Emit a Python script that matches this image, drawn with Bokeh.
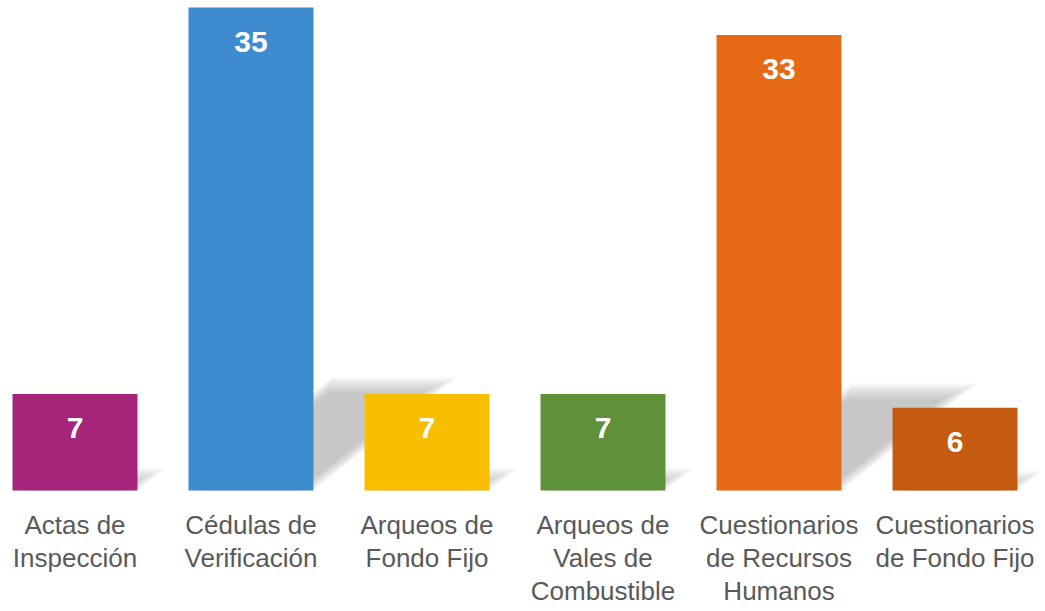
from bokeh.plotting import figure
from bokeh.models import ColumnDataSource, Range1d
from bokeh.core.properties import value
from bokeh.embed import file_html
from bokeh.resources import INLINE

# ---- data ----
categories = [
    "Actas de\nInspección",
    "Cédulas de\nVerificación",
    "Arqueos de\nFondo Fijo",
    "Arqueos de\nVales de\nCombustible",
    "Cuestionarios\nde Recursos\nHumanos",
    "Cuestionarios\nde Fondo Fijo",
]
values = [7, 35, 7, 7, 33, 6]
colors = ["#A5257A", "#3F8BD0", "#F8BE00", "#5E913A", "#E66A16", "#C55A11"]

# ---- layout ----
W, H = 1040, 608
px_x = 176.0          # pixels per category step
px_y = 483.0 / 35.0   # pixels per value unit
x_start = -74.5 / px_x
x_end = x_start + W / px_x
y_end = 490.0 / px_y
y_start = y_end - H / px_y
bar_w = 0.71

p = figure(width=W, height=H,
           x_range=Range1d(x_start, x_end), y_range=Range1d(y_start, y_end),
           output_backend="svg", toolbar_location=None,
           x_axis_location=None, y_axis_location=None, min_border=0)
p.grid.visible = False
p.outline_line_color = None
p.background_fill_color = "white"

xpos = list(range(len(values)))

# ---- perspective shadows (derived from bar geometry) ----
xs_all, ys_all = [], []
layers = 8
for i, v in zip(xpos, values):
    rise_px = 0.235 * v * px_y
    dx_px = 1.27 * rise_px
    for k in range(layers):
        inset = k * 2.2
        top_px = max(rise_px - inset, 1.0)
        ix = inset / px_x
        dx = dx_px * (top_px / rise_px) / px_x
        x0 = i - bar_w / 2 + ix
        x1 = i + bar_w / 2 - ix
        xs_all.append([x0, x1, x1 + dx, x0 + dx])
        ys_all.append([0, 0, top_px / px_y, top_px / px_y])
p.patches(xs_all, ys_all, fill_color="#7f7f7f", fill_alpha=0.058, line_color=None)

# ---- bars ----
src = ColumnDataSource(dict(
    x=xpos, top=values, color=colors,
    label=[str(v) for v in values],
    label_y=[v - 34 / px_y for v in values],
))
p.vbar(x="x", top="top", bottom=0, width=bar_w, fill_color="color",
       line_color=None, source=src)

p.text(x="x", y="label_y", text="label", source=src,
       text_color="white", text_font=value("Liberation Sans"),
       text_font_style="bold", text_font_size="30px",
       text_align="center", text_baseline="middle")

# ---- category labels ----
cat_y = y_end - 509 / px_y
p.text(x=xpos, y=[cat_y] * len(xpos), text=categories,
       text_color="#595959", text_font=value("Liberation Sans"),
       text_font_size="26px", text_line_height=1.11,
       text_align="center", text_baseline="top")

open("out.html", "w").write(file_html(p, INLINE))
